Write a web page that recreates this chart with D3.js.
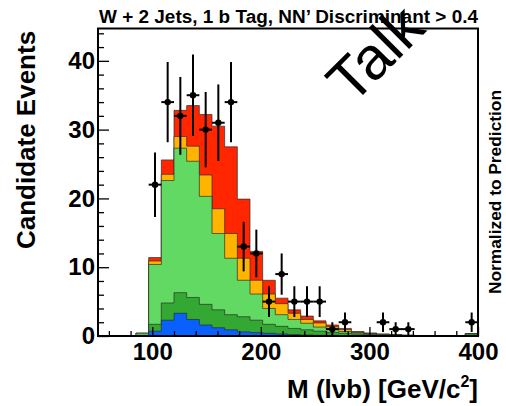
<!DOCTYPE html>
<html><head><meta charset="utf-8">
<script src="https://cdn.jsdelivr.net/npm/d3@7"></script>
<style>body{margin:0;background:#fff} svg{display:block} text{font-family:"Liberation Sans",Arial,Helvetica,sans-serif}</style>
</head><body><svg id="c" width="506" height="406"></svg>
<script>
// ---- data ----
const binEdges = [50,61.67,73.33,85,96.67,108.33,120,131.67,143.33,155,166.67,178.33,190,201.67,213.33,225,236.67,248.33,260,271.67,283.33,295,306.67,318.33,330,341.67,353.33,365,376.67,388.33,400];
const blueVals       = [0,0,0,0,   0.7,2.3,3.3,2.4,1.6,1.2,0.9,0.6,0.5,0.4,0.3,0.2,0.15,0.1,0.1,0.05,0.05,0.03,0.02,0,0,0,0,0,0,0];
const darkGreenVals  = [0,0,0,0.1, 1.0,2.5,3.0,3.2,3.0,2.6,2.2,2.2,1.8,1.3,1.1,0.9,0.75,0.6,0.4,0.35,0.25,0.17,0.13,0.1,0.05,0.03,0.02,0.02,0.02,0.3];
const lightGreenVals = [0,0,0,0.3, 8.7,17.8,21.0,19.8,15.7,11.1,8.2,5.3,3.8,2.3,1.7,1.3,0.95,0.6,0.5,0.25,0.15,0.1,0.05,0.05,0.03,0.01,0.01,0,0,0.05];
const orangeVals     = [0,0,0,0,   0.5,0.9,1.7,2.2,3.1,3.6,3.6,3.2,2.0,2.1,1.6,0.9,0.55,0.6,0.35,0.3,0.1,0.05,0.05,0.03,0.02,0.01,0,0,0,0];
const redVals        = [0,0,0,0,   0.5,2.1,3.8,5.9,8.8,12.0,12.6,8.6,4.2,2.0,0.8,0.5,0.5,0.3,0.25,0.15,0.1,0.1,0.05,0.02,0.02,0,0,0,0,0];
const dataCounts     = [0,0,0,0,22,34,32,35,30,31,34,13,12,5,9,5,5,5,1,2,0,0,2,1,1,0,0,0,0,2];
const yTicks = [0,10,20,30,40];
const yMinorTicks = [2,4,6,8,12,14,16,18,22,24,26,28,32,34,36,38,42,44];
const xTicks = [100,200,300,400];
const xMinorTicks = [60,80,120,140,160,180,220,240,260,280,320,340,360,380];
const layerColors = ["#0a60ff","#33a833","#62d962","#ffb400","#ff2600"];

// ---- chart ----
const svg = d3.select("#c");
const L = 98, R = 478, T = 28.5, B = 336;
const x = d3.scaleLinear().domain([50,400]).range([L,R]);
const y = d3.scaleLinear().domain([0,44.7]).range([B,T]);

const keys = ["blue","dg","lg","or","red"];
const table = dataCounts.map((n,i)=>({lo:binEdges[i],hi:binEdges[i+1],n,
  blue:blueVals[i],dg:darkGreenVals[i],lg:lightGreenVals[i],or:orangeVals[i],red:redVals[i]}));
const stacked = d3.stack().keys(keys)(table);

svg.append("clipPath").attr("id","clip").append("rect").attr("x",L).attr("y",T).attr("width",R-L).attr("height",B-T);
const g = svg.append("g").attr("clip-path","url(#clip)");
const area = d3.area().x(p=>x(p[0])).y0(y(0)).y1(p=>y(p[1]));
for (let k = stacked.length-1; k >= 0; k--) {
  const pts = [];
  stacked[k].forEach(d=>{pts.push([d.data.lo,d[1]],[d.data.hi,d[1]]);});
  g.append("path").attr("d",area(pts)).attr("fill",layerColors[k])
   .attr("stroke","#2a2a2a").attr("stroke-opacity",0.75).attr("stroke-width",0.9);
}

// data points
const pg = svg.append("g");
table.filter(d=>d.n>0).forEach(d=>{
  const cx = x((d.lo+d.hi)/2), s = Math.sqrt(d.n);
  pg.append("line").attr("x1",cx).attr("x2",cx).attr("y1",y(d.n+s)).attr("y2",y(Math.max(0,d.n-s)))
    .attr("stroke","#000").attr("stroke-width",2);
  pg.append("line").attr("x1",x(d.lo)).attr("x2",x(d.hi)).attr("y1",y(d.n)).attr("y2",y(d.n))
    .attr("stroke","#000").attr("stroke-width",2);
  pg.append("circle").attr("cx",cx).attr("cy",y(d.n)).attr("r",3.2).attr("fill","#000");
});

// axes
svg.append("g").attr("transform",`translate(${L},0)`)
  .call(d3.axisLeft(y).tickValues(yTicks).tickSize(-11).tickPadding(3).tickFormat(d3.format("d")));
svg.append("g").attr("transform",`translate(${L},0)`)
  .call(d3.axisLeft(y).tickValues(yMinorTicks).tickSize(-6).tickFormat(""));
svg.append("g").attr("transform",`translate(0,${B})`)
  .call(d3.axisBottom(x).tickValues(xTicks).tickSize(-9).tickPadding(7).tickFormat(d3.format("d")));
svg.append("g").attr("transform",`translate(0,${B})`)
  .call(d3.axisBottom(x).tickValues(xMinorTicks).tickSize(-5).tickFormat(""));
svg.selectAll(".domain").remove();
svg.selectAll(".tick line").attr("stroke","#000").attr("stroke-width",1.3);
svg.selectAll(".tick text").attr("font-size",24).attr("font-weight","bold").attr("fill","#000")
  .attr("font-family","'Liberation Sans',Arial,sans-serif");

// frame
svg.append("rect").attr("x",L).attr("y",T).attr("width",R-L).attr("height",B-T)
  .attr("fill","none").attr("stroke","#000").attr("stroke-width",2);

// title
svg.append("text").attr("x",99).attr("y",23).attr("font-size",17.5).attr("font-weight","bold")
  .attr("textLength",379).attr("lengthAdjust","spacingAndGlyphs")
  .text("W + 2 Jets, 1 b Tag, NN\u2019 Discriminant > 0.4");

// axis titles
svg.append("text").attr("transform","translate(35,140) rotate(-90)").attr("text-anchor","middle")
  .attr("font-size",26).attr("font-weight","bold").text("Candidate Events");
const xt = svg.append("text").attr("x",478).attr("y",398).attr("text-anchor","end")
  .attr("font-size",26).attr("font-weight","bold");
xt.append("tspan").text("M (l\u03bdb) [GeV/c");
xt.append("tspan").attr("font-size",16).attr("dy",-11).text("2");
xt.append("tspan").attr("dy",11).text("]");
svg.append("text").attr("transform","translate(501,192) rotate(-90)").attr("text-anchor","middle")
  .attr("font-size",16.5).attr("font-weight","bold")
  .attr("textLength",204).attr("lengthAdjust","spacingAndGlyphs").text("Normalized to Prediction");

// watermark
svg.append("text").attr("transform","translate(352,106) rotate(-45)")
  .attr("font-size",60).attr("fill","#000").text("Talk");
</script></body></html>
